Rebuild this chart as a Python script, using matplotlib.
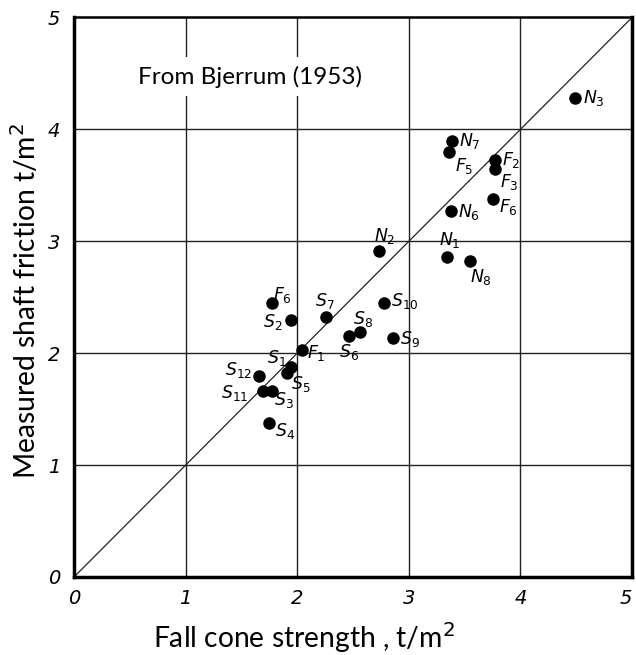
import matplotlib
matplotlib.use("Agg")
import matplotlib.pyplot as plt

# pile tests: fall cone strength vs measured shaft friction (t/m2)
names = ["N3", "N7", "F5", "F2", "F3", "F6", "N6", "N2", "N1", "N8",
         "S10", "S7", "F6", "S2", "S8", "S6", "S9", "F1", "S1", "S5",
         "S12", "S11", "S3", "S4"]
cone = [4.49, 3.39, 3.36, 3.77, 3.77, 3.75, 3.38, 2.73, 3.34, 3.55,
        2.78, 2.26, 1.77, 1.94, 2.56, 2.46, 2.86, 2.04, 1.94, 1.91,
        1.66, 1.69, 1.77, 1.75]
friction = [4.28, 3.90, 3.80, 3.73, 3.65, 3.38, 3.27, 2.91, 2.86, 2.82,
            2.45, 2.32, 2.45, 2.30, 2.19, 2.15, 2.14, 2.03, 1.88, 1.82,
            1.80, 1.66, 1.66, 1.38]
# label placement: offset in points and alignment
offsets = [(6, 0, "left"), (5, 0, "left"), (4, -10, "left"), (5, 0, "left"),
           (4, -10, "left"), (5, -6, "left"), (5, -1, "left"), (4, 11, "center"),
           (2, 12, "center"), (8, -11, "center"), (5, 1, "left"), (-1, 12, "center"),
           (8, 6, "center"), (-6, -2, "right"), (2, 9, "center"), (0, -11, "center"),
           (5, -1, "left"), (4, -2, "left"), (-10, 6, "center"), (3, -8, "left"),
           (-5, 4, "right"), (-10, -1, "right"), (2, -6, "left"), (4, -6, "left")]

ticks = [0, 1, 2, 3, 4, 5]

fig = plt.figure(figsize=(6.36, 6.55), dpi=100)
ax = fig.add_axes([0.1164, 0.1191, 0.8774, 0.8542])

for t in ticks[1:-1]:
    ax.axvline(t, color="#222222", lw=1.0, zorder=1)
    ax.axhline(t, color="#222222", lw=1.0, zorder=1)
ax.plot([0, 5], [0, 5], color="#222222", lw=0.9, zorder=2)

ax.plot(cone, friction, "o", color="black", markersize=8, zorder=3)
for n, x, y, (dx, dy, ha) in zip(names, cone, friction, offsets):
    lab = "$%s_{%s}$" % (n[0], n[1:])
    ax.annotate(lab, (x, y), xytext=(dx, dy), textcoords="offset points",
                ha=ha, va="center", fontsize=12.5, zorder=4)

ax.text(0.3145, 0.894, "From Bjerrum (1953)", transform=ax.transAxes,
        ha="center", va="center", fontsize=17.5, family="Lato",
        bbox=dict(facecolor="white", edgecolor="none", pad=6), zorder=5)

ax.set_xlim(0, 5)
ax.set_ylim(0, 5)
ax.set_xticks(ticks)
ax.set_yticks(ticks)
ax.set_xticklabels([str(t) for t in ticks], fontsize=14, fontstyle="italic",
                   family="DejaVu Sans")
ax.set_yticklabels([str(t) for t in ticks], fontsize=14, fontstyle="italic",
                   family="DejaVu Sans")
ax.get_xticklabels()[-1].set_horizontalalignment("right")
ax.tick_params(axis="x", length=0, pad=9)
ax.tick_params(axis="y", length=0, pad=10)
for side, w in [("left", 2.5), ("bottom", 2.5), ("right", 2.5), ("top", 1.8)]:
    ax.spines[side].set_linewidth(w)

fig.text(0.478, 0.027, "Fall cone strength , t/m$^2$", ha="center", va="center",
         fontsize=20.3, family="Lato")
fig.text(0.039, 0.54, "Measured shaft friction t/m$^2$", ha="center", va="center",
         rotation=90, fontsize=20.3, family="Lato")

fig.savefig("out.png", dpi=100)
